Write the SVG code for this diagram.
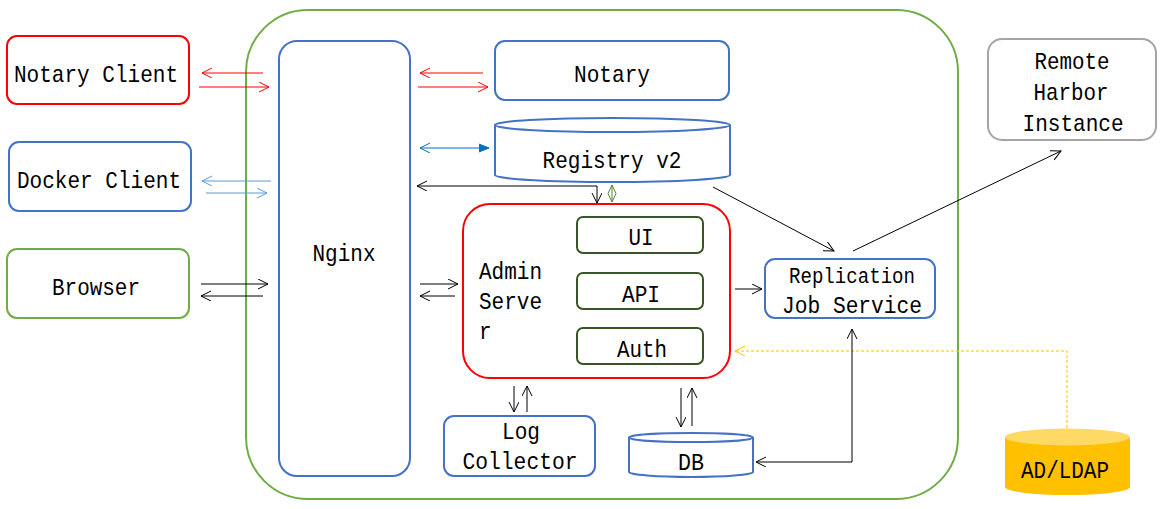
<svg xmlns="http://www.w3.org/2000/svg" width="1167" height="509" viewBox="0 0 1167 509">
<style>
text{font-family:"Liberation Mono","DejaVu Sans Mono",monospace;font-size:24px;fill:#000;text-anchor:middle}
.box{fill:#fff;stroke-width:2}
.red{stroke:#FF0000}
.blue{stroke:#4472C4}
.green{stroke:#70AD47}
.gray{stroke:#A5A5A5}
.dg{stroke:#375623}
.ln{fill:none;stroke-width:1}
</style>
<defs>
<marker id="aBk" markerUnits="userSpaceOnUse" markerWidth="12" markerHeight="12" refX="10" refY="5" orient="auto-start-reverse"><path d="M0,0 L10,5 L0,10" fill="none" stroke="#000" stroke-width="1"/></marker>
<marker id="aRd" markerUnits="userSpaceOnUse" markerWidth="12" markerHeight="12" refX="10" refY="5" orient="auto-start-reverse"><path d="M0,0 L10,5 L0,10" fill="none" stroke="#FF0000" stroke-width="1"/></marker>
<marker id="aLb" markerUnits="userSpaceOnUse" markerWidth="12" markerHeight="12" refX="10" refY="5" orient="auto-start-reverse"><path d="M0,0 L10,5 L0,10" fill="none" stroke="#5B9BD5" stroke-width="1"/></marker>
<marker id="aDb" markerUnits="userSpaceOnUse" markerWidth="12" markerHeight="12" refX="10" refY="5" orient="auto-start-reverse"><path d="M0,0 L10,5 L0,10" fill="none" stroke="#0070C0" stroke-width="1"/></marker>
<marker id="aDbF" markerUnits="userSpaceOnUse" markerWidth="12" markerHeight="12" refX="10" refY="5" orient="auto"><path d="M0,1 L10,5 L0,9 Z" fill="#0070C0" stroke="#0070C0" stroke-width="1"/></marker>
<marker id="aYl" markerUnits="userSpaceOnUse" markerWidth="12" markerHeight="12" refX="10" refY="5" orient="auto"><path d="M0,0 L10,5 L0,10" fill="none" stroke="#FFC000" stroke-width="1"/></marker>
</defs>

<g id="harbor-container"><rect x="246" y="10" width="712" height="489" rx="62" ry="62" fill="none" stroke="#70AD47" stroke-width="2"/></g>

<g id="notary-client"><rect class="box red" x="7" y="36" width="182" height="68" rx="10"/><text x="96" y="82" textLength="164" lengthAdjust="spacingAndGlyphs">Notary Client</text></g>
<g id="docker-client"><rect class="box blue" x="9" y="142" width="182" height="69" rx="10"/><text x="99" y="188" textLength="164" lengthAdjust="spacingAndGlyphs">Docker Client</text></g>
<g id="browser"><rect class="box green" x="7" y="249" width="182" height="69" rx="10"/><text x="96" y="295" textLength="88" lengthAdjust="spacingAndGlyphs">Browser</text></g>

<g id="nginx"><rect class="box blue" x="279" y="41" width="131" height="435" rx="18"/><text x="344" y="261" textLength="63" lengthAdjust="spacingAndGlyphs">Nginx</text></g>

<g id="notary"><rect class="box blue" x="495" y="41" width="234" height="59" rx="10"/><text x="612" y="82" textLength="76" lengthAdjust="spacingAndGlyphs">Notary</text></g>

<g id="registry"><path class="box blue" d="M495,125 V175 A117.5,7 0 0 0 730,175 V125"/><ellipse class="box blue" cx="612.5" cy="125" rx="117.5" ry="7"/><text x="612" y="168" textLength="139" lengthAdjust="spacingAndGlyphs">Registry v2</text></g>

<g id="admin-server"><rect class="box red" x="463" y="204" width="267" height="174" rx="27"/>
<text x="479" y="279" text-anchor="start" style="text-anchor:start" textLength="63" lengthAdjust="spacingAndGlyphs">Admin</text>
<text x="479" y="309" style="text-anchor:start" textLength="63" lengthAdjust="spacingAndGlyphs">Serve</text>
<text x="479" y="339" style="text-anchor:start" textLength="12.6" lengthAdjust="spacingAndGlyphs">r</text></g>
<g id="ui"><rect class="box dg" x="577" y="217" width="126" height="36" rx="6"/><text x="641" y="245" textLength="25" lengthAdjust="spacingAndGlyphs">UI</text></g>
<g id="api"><rect class="box dg" x="577" y="273" width="126" height="36" rx="6"/><text x="641" y="302" textLength="38" lengthAdjust="spacingAndGlyphs">API</text></g>
<g id="auth"><rect class="box dg" x="577" y="328" width="126" height="36" rx="6"/><text x="642" y="357" textLength="50" lengthAdjust="spacingAndGlyphs">Auth</text></g>

<g id="replication"><rect class="box blue" x="765" y="259" width="170" height="59" rx="10"/><text x="852" y="283" style="font-size:22px" textLength="126" lengthAdjust="spacingAndGlyphs">Replication</text><text x="852" y="313" textLength="140" lengthAdjust="spacingAndGlyphs">Job Service</text></g>

<g id="remote-harbor"><rect class="box gray" x="988" y="39" width="168" height="101" rx="14"/><text x="1072" y="69" textLength="75" lengthAdjust="spacingAndGlyphs">Remote</text><text x="1071" y="100" textLength="75" lengthAdjust="spacingAndGlyphs">Harbor</text><text x="1073" y="131" textLength="101" lengthAdjust="spacingAndGlyphs">Instance</text></g>

<g id="log-collector"><rect class="box blue" x="444" y="416" width="151" height="60" rx="10"/><text x="521" y="439" textLength="38" lengthAdjust="spacingAndGlyphs">Log</text><text x="520" y="469" textLength="115" lengthAdjust="spacingAndGlyphs">Collector</text></g>

<g id="db"><path class="box blue" d="M629,437.5 V472 A62,5 0 0 0 753,472 V437.5"/><ellipse class="box blue" cx="691" cy="437.5" rx="62" ry="4.5"/><text x="691" y="470" textLength="26" lengthAdjust="spacingAndGlyphs">DB</text></g>

<g id="ad-ldap"><path d="M1005,437 V487 A62.5,8 0 0 0 1130,487 V437 Z" fill="#FFC000"/><ellipse cx="1067.5" cy="437" rx="62.5" ry="8.5" fill="#FFD966"/><text x="1065" y="478" textLength="88" lengthAdjust="spacingAndGlyphs">AD/LDAP</text></g>

<g id="connectors">
<line x1="263" y1="73" x2="202" y2="73" stroke="#FF0000" class="ln" marker-end="url(#aRd)"/>
<line x1="199" y1="87" x2="269" y2="87" stroke="#FF0000" class="ln" marker-end="url(#aRd)"/>
<line x1="483" y1="73" x2="420" y2="73" stroke="#FF0000" class="ln" marker-end="url(#aRd)"/>
<line x1="418" y1="87" x2="488" y2="87" stroke="#FF0000" class="ln" marker-end="url(#aRd)"/>
<line x1="271" y1="181" x2="202" y2="181" stroke="#5B9BD5" class="ln" stroke-width="1.5" marker-end="url(#aLb)"/>
<line x1="206" y1="193" x2="267" y2="193" stroke="#5B9BD5" class="ln" stroke-width="1.5" marker-end="url(#aLb)"/>
<line x1="420" y1="148" x2="489" y2="148" stroke="#0070C0" class="ln" marker-start="url(#aDb)" marker-end="url(#aDbF)"/>
<line x1="201" y1="284" x2="268" y2="284" stroke="#000" class="ln" marker-end="url(#aBk)"/>
<line x1="263" y1="296" x2="201" y2="296" stroke="#000" class="ln" marker-end="url(#aBk)"/>
<line x1="420" y1="284" x2="458" y2="284" stroke="#000" class="ln" marker-end="url(#aBk)"/>
<line x1="455" y1="296" x2="420" y2="296" stroke="#000" class="ln" marker-end="url(#aBk)"/>
<polyline points="417,186 597,186 597,203" stroke="#000" class="ln" marker-start="url(#aBk)" marker-end="url(#aBk)"/>
<path d="M612,185 L616,193.5 L612,202 L608,193.5 Z M612,185 V202" fill="none" stroke="#548235" stroke-width="1"/>
<line x1="713" y1="187" x2="834" y2="251" stroke="#000" class="ln" marker-end="url(#aBk)"/>
<line x1="853" y1="251" x2="1061" y2="151" stroke="#000" class="ln" marker-end="url(#aBk)"/>
<line x1="735" y1="289" x2="762" y2="289" stroke="#000" class="ln" marker-end="url(#aBk)"/>
<polyline points="1067,428 1067,351 735,351" stroke="#FFC000" class="ln" stroke-dasharray="3,2" marker-end="url(#aYl)"/>
<polyline points="852,329 852,462 756,462" stroke="#000" class="ln" marker-start="url(#aBk)" marker-end="url(#aBk)"/>
<line x1="514" y1="386" x2="514" y2="412" stroke="#000" class="ln" marker-end="url(#aBk)"/>
<line x1="527" y1="412" x2="527" y2="386" stroke="#000" class="ln" marker-end="url(#aBk)"/>
<line x1="681" y1="388" x2="681" y2="427" stroke="#000" class="ln" marker-end="url(#aBk)"/>
<line x1="692" y1="426" x2="692" y2="388" stroke="#000" class="ln" marker-end="url(#aBk)"/>
</g>
</svg>
